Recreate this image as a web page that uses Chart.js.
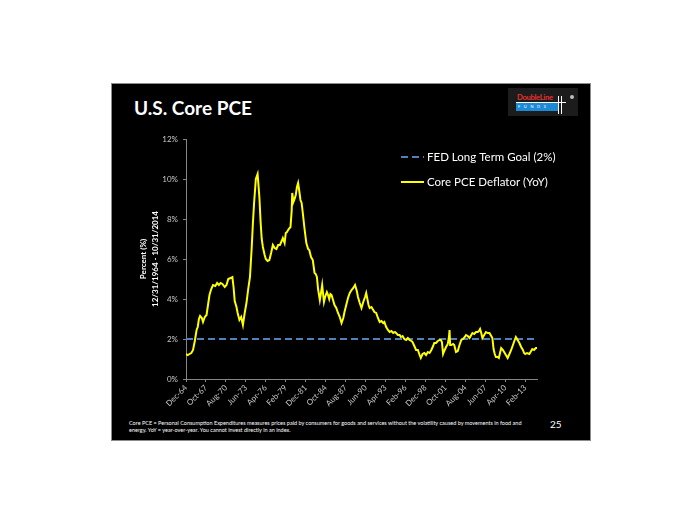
<!DOCTYPE html>
<html>
<head>
<meta charset="utf-8">
<script src="https://cdn.jsdelivr.net/npm/chart.js@4.4.0/dist/chart.umd.min.js"></script>
<style>
  html, body { margin: 0; padding: 0; background: #fff; }
  #page { position: relative; width: 700px; height: 525px; overflow: hidden; font-family: Lato, 'Open Sans', sans-serif; }
  .slide { position: absolute; left: 111px; top: 83px; width: 478px; height: 356px; background: #000; border: 1px solid #8c8c8c; }
  .title { position: absolute; left: 134px; top: 98px; font-size: 19px; line-height: 19px; font-weight: bold; color: #fff; white-space: nowrap; }
  .logo { position: absolute; left: 508px; top: 88px; width: 70px; height: 28px; background: #1c1c1c; }
  .logo .name { position: absolute; left: 9px; top: 5px; font-size: 7.6px; line-height: 9px; font-weight: bold; color: #e2322f; letter-spacing: -0.3px; }
  .logo .bar { position: absolute; left: 8px; top: 15px; width: 42px; height: 8px; background: #1d8ad6; }
  .logo .funds { position: absolute; left: 10px; top: 16px; font-size: 4px; line-height: 6px; color: #fff; letter-spacing: 3.6px; }
  .logo .hl { position: absolute; left: 8px; top: 14px; width: 50px; height: 1px; background: #fff; }
  .logo .vl1 { position: absolute; left: 50px; top: 8px; width: 1px; height: 18px; background: #fff; }
  .logo .vl2 { position: absolute; left: 53px; top: 8px; width: 1px; height: 18px; background: #fff; }
  .logo .dot { position: absolute; left: 62px; top: 7px; width: 4px; height: 4px; border-radius: 2px; background: #bdbdbd; }
  .note { position: absolute; left: 129px; top: 420px; font-size: 5.5px; line-height: 6.8px; color: #fff; white-space: nowrap; }
  .pagenum { position: absolute; left: 550px; top: 418px; font-size: 10px; line-height: 12px; color: #fff; }
  #chart { position: absolute; left: 0; top: 0; }
</style>
</head>
<body>
<div id="page">
  <div class="slide"></div>
  <div class="title">U.S. Core PCE</div>
  <div class="logo">
    <div class="name">DoubleLine</div>
    <div class="bar"></div>
    <div class="funds">FUNDS</div>
    <div class="hl"></div>
    <div class="vl1"></div>
    <div class="vl2"></div>
    <div class="dot"></div>
  </div>
  <div class="note">Core PCE = Personal Consumption Expenditures measures prices paid by consumers for goods and services without the volatility caused by movements in food and<br>energy. YoY = year-over-year. You cannot invest directly in an index.</div>
  <div class="pagenum">25</div>
  <canvas id="chart" width="700" height="525"></canvas>
</div>
<script>
// months counted from Dec-64 (0) to Oct-14 (598)
const months = [
  0, 3, 6, 9, 12, 15, 18, 20, 22, 24, 27, 29, 32, 35, 38, 40, 43, 46, 50, 53,
  56, 59, 62, 66, 69, 72, 76, 79, 81, 83, 86, 88, 91, 94, 97, 100, 103, 106, 109, 112,
  114, 116, 119, 122, 125, 127, 129, 131, 134, 136, 139, 142, 145, 148, 151, 154, 157, 160, 163, 165,
  168, 170, 172, 175, 178, 180, 181, 183, 185, 187, 189, 191, 193, 195, 197, 199, 202, 205, 208, 210,
  213, 216, 219, 221, 223, 225, 228, 230, 232, 235, 237, 240, 242, 244, 246, 248, 251, 253, 256, 259,
  262, 265, 268, 270, 273, 276, 279, 282, 285, 288, 291, 293, 296, 299, 302, 305, 307, 309, 311, 313,
  316, 319, 321, 324, 327, 330, 333, 336, 338, 341, 344, 347, 350, 353, 356, 358, 361, 364, 366, 369,
  372, 375, 378, 381, 384, 386, 389, 392, 395, 398, 400, 403, 406, 409, 412, 415, 418, 421, 423, 426,
  429, 432, 434, 436, 438, 440, 443, 446, 448, 449, 450, 452, 455, 457, 460, 463, 466, 469, 472, 475,
  477, 480, 483, 486, 488, 491, 494, 497, 499, 501, 503, 505, 508, 511, 514, 517, 519, 522, 524, 526,
  528, 531, 533, 535, 537, 540, 542, 545, 548, 551, 554, 557, 560, 562, 565, 568, 571, 574, 576, 578,
  581, 585, 588, 590, 593, 596, 598
];
const corePce = [
  1.25, 1.2, 1.25, 1.3, 1.45, 1.9, 2.45, 2.6, 3.0, 3.15, 3.05, 2.85, 3.1, 3.2, 3.8, 4.2, 4.5, 4.7, 4.65, 4.8,
  4.7, 4.8, 4.75, 4.6, 4.7, 5.0, 5.05, 5.1, 4.6, 3.9, 3.6, 3.3, 2.95, 3.1, 2.7, 3.3, 3.8, 4.5, 5.1, 6.6,
  7.8, 8.8, 10.0, 10.25, 9.1, 7.9, 7.0, 6.6, 6.2, 6.0, 5.9, 5.95, 6.3, 6.7, 6.55, 6.5, 6.7, 6.7, 6.9, 7.05,
  6.8, 7.3, 7.35, 7.5, 7.6, 8.4, 9.3, 8.85, 9.0, 9.2, 9.6, 9.8, 9.4, 8.95, 8.8, 8.3, 7.5, 6.8, 6.5, 6.45,
  6.1, 5.95, 5.3, 5.25, 5.1, 4.5, 3.95, 4.3, 4.7, 3.85, 4.1, 4.35, 4.2, 4.0, 4.25, 4.2, 3.9, 3.7, 3.55, 3.3,
  3.1, 2.8, 3.05, 3.35, 3.7, 4.05, 4.3, 4.45, 4.55, 4.7, 4.4, 4.1, 3.8, 3.55, 3.85, 4.1, 4.3, 4.0, 3.7, 3.55,
  3.6, 3.45, 3.35, 3.3, 3.05, 2.85, 2.9, 2.8, 2.85, 2.6, 2.45, 2.35, 2.4, 2.3, 2.35, 2.3, 2.2, 2.2, 2.1, 2.15,
  2.0, 1.95, 2.05, 1.95, 1.9, 1.85, 1.65, 1.45, 1.45, 1.2, 1.05, 1.25, 1.3, 1.2, 1.35, 1.3, 1.45, 1.65, 1.8, 1.8,
  1.9, 1.95, 1.95, 1.85, 1.25, 1.4, 1.6, 1.75, 2.1, 2.45, 1.7, 1.7, 1.75, 1.7, 1.35, 1.4, 1.7, 1.95, 2.0, 2.1,
  2.2, 2.15, 2.05, 2.2, 2.3, 2.25, 2.35, 2.35, 2.4, 2.5, 2.3, 2.05, 2.2, 2.35, 2.3, 2.3, 2.2, 2.05, 1.5, 1.25,
  1.1, 1.1, 1.05, 1.3, 1.55, 1.45, 1.35, 1.2, 1.05, 1.25, 1.45, 1.7, 1.95, 2.1, 1.95, 1.8, 1.6, 1.45, 1.3, 1.25,
  1.3, 1.25, 1.4, 1.5, 1.45, 1.55, 1.55
];
const fedGoal = 2;
const firstMonth = 0;
const lastMonth = 598;
const tickMonths = [0, 34, 68, 102, 136, 170, 204, 238, 272, 306, 340, 374, 408, 442, 476, 510, 544, 578];
const tickLabels = ['Dec-64', 'Oct-67', 'Aug-70', 'Jun-73', 'Apr-76', 'Feb-79', 'Dec-81', 'Oct-84', 'Aug-87',
  'Jun-90', 'Apr-93', 'Feb-96', 'Dec-98', 'Oct-01', 'Aug-04', 'Jun-07', 'Apr-10', 'Feb-13'];
const yTicks = [0, 2, 4, 6, 8, 10, 12];

const axisGray = '#868686';
const labelGray = '#c8c8c8';
const fontFamily = "Lato, 'Open Sans', sans-serif";

// legend drawn inside the plot, top right
const innerLegend = {
  id: 'innerLegend',
  afterDraw(chart) {
    const ctx = chart.ctx;
    const area = chart.chartArea;
    const x0 = area.right - 136;
    const rows = [area.top + 18, area.top + 43];
    ctx.save();
    chart.data.datasets.forEach((ds, i) => {
      const y = rows[i];
      ctx.beginPath();
      ctx.strokeStyle = ds.borderColor;
      ctx.lineWidth = ds.borderWidth;
      ctx.setLineDash(ds.borderDash || []);
      ctx.moveTo(x0, y);
      ctx.lineTo(x0 + 23, y);
      ctx.stroke();
      ctx.setLineDash([]);
      ctx.fillStyle = '#fff';
      ctx.font = '11.5px ' + fontFamily;
      ctx.textBaseline = 'middle';
      ctx.fillText(ds.label, x0 + 26, y);
    });
    ctx.restore();
  }
};

new Chart(document.getElementById('chart'), {
  type: 'line',
  data: {
    datasets: [
      {
        label: 'FED Long Term Goal (2%)',
        data: [{ x: firstMonth, y: fedGoal }, { x: lastMonth, y: fedGoal }],
        borderColor: '#4f81bd',
        borderWidth: 2,
        borderDash: [7, 4],
        pointRadius: 0,
        order: 2
      },
      {
        label: 'Core PCE Deflator (YoY)',
        data: months.map((m, i) => ({ x: m, y: corePce[i] })),
        borderColor: '#ffff00',
        borderWidth: 2,
        pointRadius: 0,
        tension: 0,
        order: 1
      }
    ]
  },
  options: {
    responsive: false,
    animation: false,
    devicePixelRatio: 1,
    layout: { padding: { left: 137, top: 139, right: 163, bottom: 96 } },
    plugins: { legend: { display: false }, tooltip: { enabled: false } },
    scales: {
      x: {
        type: 'linear',
        min: firstMonth,
        max: lastMonth,
        afterBuildTicks(scale) {
          scale.ticks = tickMonths.map(v => ({ value: v }));
        },
        afterFit(scale) { scale.height = 50; },
        ticks: {
          autoSkip: false,
          maxRotation: 45,
          minRotation: 45,
          padding: 1,
          color: labelGray,
          font: { family: fontFamily, size: 8 },
          callback(value) {
            const i = tickMonths.indexOf(value);
            return i >= 0 ? tickLabels[i] : '';
          }
        },
        grid: { drawOnChartArea: false, drawTicks: true, tickLength: 3, color: axisGray },
        border: { color: axisGray, width: 1 }
      },
      y: {
        min: 0,
        max: 12,
        afterBuildTicks(scale) {
          scale.ticks = yTicks.map(v => ({ value: v }));
        },
        afterFit(scale) { scale.width = 49; },
        ticks: {
          padding: 5,
          color: labelGray,
          font: { family: fontFamily, size: 8 },
          callback: v => v + '%'
        },
        grid: { drawOnChartArea: false, drawTicks: true, tickLength: 3, color: axisGray },
        border: { color: axisGray, width: 1 },
        title: {
          display: true,
          text: ['Percent (%)', '12/31/1964 - 10/31/2014'],
          color: '#fff',
          padding: 0,
          font: { family: fontFamily, size: 8, weight: 'bold', lineHeight: 1.5 }
        }
      }
    }
  },
  plugins: [innerLegend]
});
</script>
</body>
</html>
